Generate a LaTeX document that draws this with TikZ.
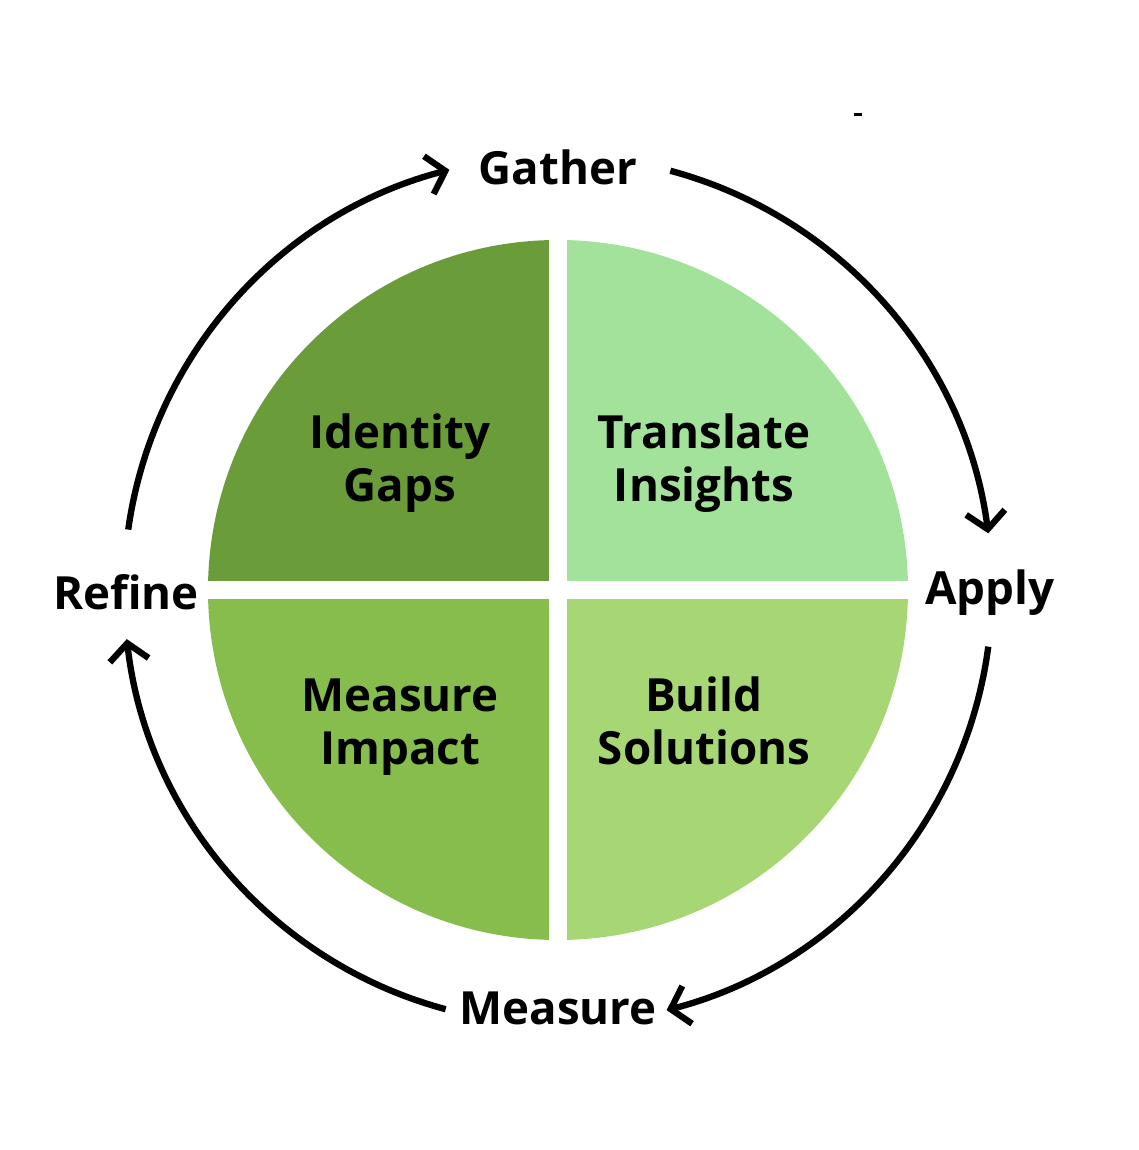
\documentclass[tikz,border=0pt]{standalone}
\usepackage{fontspec}
\setmainfont{Open Sans}
\usepackage{xcolor}
\definecolor{gapsgreen}{HTML}{6B9C3A}
\definecolor{insightgreen}{HTML}{A3E29B}
\definecolor{impactgreen}{HTML}{86BD4D}
\definecolor{buildgreen}{HTML}{A7D674}
\usetikzlibrary{arrows.meta,positioning}
\tikzset{
  quadtext/.style={font=\bfseries\fontsize{13}{15}\selectfont,align=center,text=black},
  steplabel/.style={font=\bfseries\fontsize{13}{16}\selectfont,text=black},
  cyclearrow/.style={-{Straight Barb[length=1.7mm,width=3.9mm,line width=1.8pt]},line width=1.8pt,black}
}

\begin{document}
\begin{tikzpicture}
\useasboundingbox (-5.58,-5.60) rectangle (5.80,5.90);
% quadrants of the disc
\fill[gapsgreen] (0,0) -- (90:3.5) arc[start angle=90,end angle=180,radius=3.5] -- cycle;
\fill[insightgreen] (0,0) -- (0:3.5) arc[start angle=0,end angle=90,radius=3.5] -- cycle;
\fill[impactgreen] (0,0) -- (180:3.5) arc[start angle=180,end angle=270,radius=3.5] -- cycle;
\fill[buildgreen] (0,0) -- (270:3.5) arc[start angle=270,end angle=360,radius=3.5] -- cycle;
\draw[white,line width=0.18cm] (0,3.6) -- (0,-3.6);
\draw[white,line width=0.18cm] (-3.6,0) -- (3.6,0);
\node[quadtext] (gaps) at (-1.58,1.27) {Identity\\Gaps};
\node[quadtext] (insights) at (1.46,1.27) {Translate\\Insights};
\node[quadtext] (impact) at (-1.58,-1.37) {Measure\\Impact};
\node[quadtext] (build) at (1.46,-1.31) {Build\\Solutions};
% cycle labels
\node[steplabel] (gather) at (0,4.23) {Gather};
\node[steplabel] (apply) at (4.32,-0.03) {Apply};
\node[steplabel] (refine) at (-4.32,-0.02) {Refine};
\node[steplabel] (measure) at (0,-4.18) {Measure};
% arcs between labels
\coordinate (refineout) at (172:4.34);
\coordinate (gatherout) at (75:4.34);
\coordinate (applyout) at (-7.5:4.34);
\coordinate (measureout) at (-105:4.34);
\draw[cyclearrow] (refineout) arc[start angle=172,end angle=104.5,radius=4.34];
\draw[cyclearrow] (gatherout) arc[start angle=75,end angle=7.5,radius=4.34];
\draw[cyclearrow] (applyout) arc[start angle=-7.5,end angle=-75.5,radius=4.34];
\draw[cyclearrow] (measureout) arc[start angle=-105,end angle=-173.5,radius=4.34];
\fill (2.96,4.735) rectangle (3.04,4.765);
\end{tikzpicture}
\end{document}
